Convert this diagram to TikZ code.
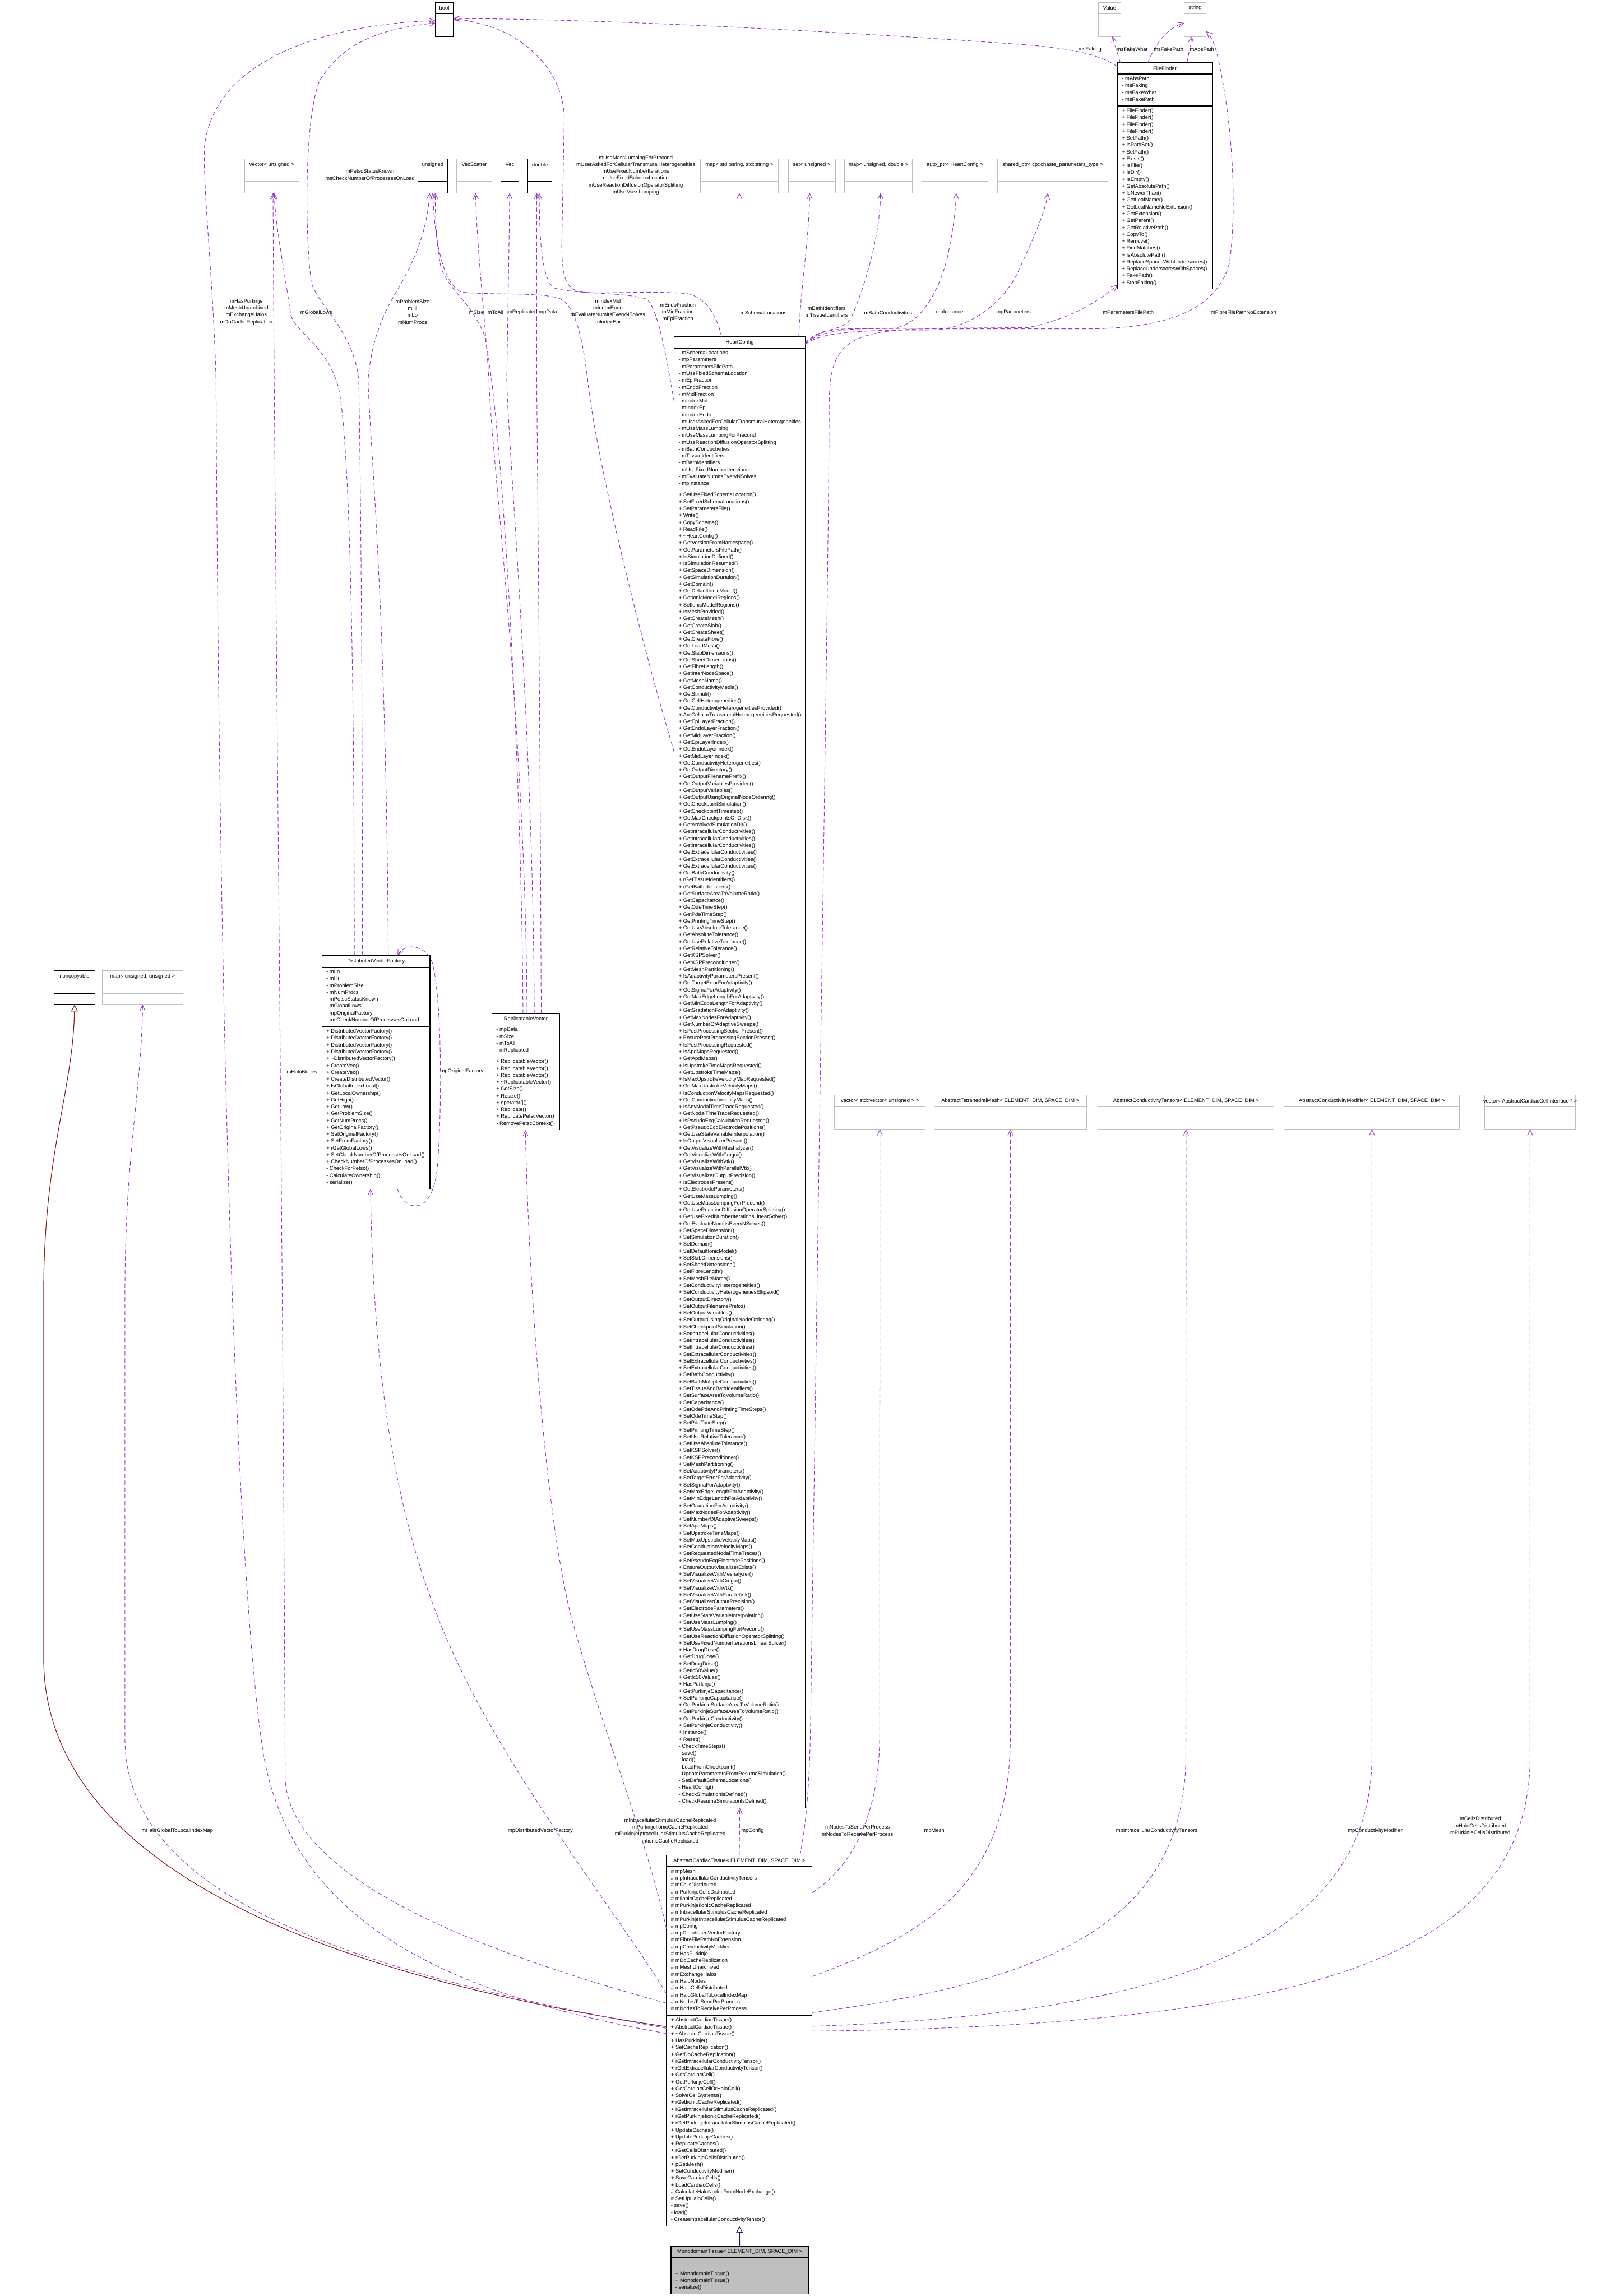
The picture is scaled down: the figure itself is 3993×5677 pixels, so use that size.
\documentclass[tikz,border=0pt]{standalone}
\usepackage{fontspec}
\setmainfont{Liberation Sans}
\usetikzlibrary{arrows.meta,calc}
\definecolor{epurple}{HTML}{9A32CD}
\definecolor{ublue}{HTML}{191970}
\definecolor{ured}{HTML}{8B1A1A}
\definecolor{ugray}{HTML}{BFBFBF}
\newcommand\dfont{\fontsize{3.25pt}{4.25pt}\selectfont}
\tikzset{
  dbox/.style={draw=black, line width=0.4pt},
  ubox/.style={draw=ugray, line width=0.4pt},
  txt/.style={font=\dfont, inner sep=0pt, outer sep=0pt},
  uses/.style={draw=epurple, line width=0.35pt, dash pattern=on 2.6pt off 1.6pt, -{Straight Barb[length=3.4pt,width=3.2pt]}},
  inh/.style={draw=ublue, line width=0.4pt, -{Triangle[open,length=4.2pt,width=4.2pt]}},
  pinh/.style={draw=ured, line width=0.4pt, -{Triangle[open,length=4.2pt,width=4.2pt]}},
  elab/.style={font=\dfont, inner sep=0pt, align=center},
}
\newcommand\classbox[8]{%
  \pgfmathsetmacro\cbA{(#6==0)?28:(#6*17+11)}%
  \pgfmathsetmacro\cbM{(#7==0)?28:(#7*17+11)}%
  \pgfmathsetmacro\cbYa{#5+28}%
  \pgfmathsetmacro\cbYm{#5+28+\cbA}%
  \pgfmathsetmacro\cbYb{#5+28+\cbA+\cbM}%
  \pgfmathsetmacro\cbW{(#4-#3)*0.25}%
  \pgfmathsetmacro\cbH{(\cbYb-#5)*0.25}%
  \node[#2, anchor=north west, minimum width=\cbW pt, minimum height=\cbH pt, inner sep=0pt, outer sep=0pt] (#1) at (#3,#5) {};
  \draw[#2] (#3,\cbYa) -- (#4,\cbYa) (#3,\cbYm) -- (#4,\cbYm);
  \node[txt, anchor=center] (#1-h) at ({(#3+#4)/2},#5+14) {#8};
  \ifnum#6>0 \node[txt, anchor=north west] (#1-a) at (#3+11,\cbYa+4) {\begin{tabular}{@{}l@{}}\cbAttrs\end{tabular}};\fi
  \ifnum#7>0 \node[txt, anchor=north west] (#1-m) at (#3+11,\cbYm+4) {\begin{tabular}{@{}l@{}}\cbMeths\end{tabular}};\fi
}
\begin{document}
\begin{tikzpicture}[x=0.25pt,y=-0.25pt]
\fill[white] (0,0) rectangle (3993,5677);
\useasboundingbox (0,0) rectangle (3993,5677);

% ---------- simple boxes
\classbox{bool}{dbox,fill=white}{1076}{1121}{6}{0}{0}{bool}
\classbox{value}{ubox,fill=white}{2716}{2771}{6}{0}{0}{Value}
\classbox{string}{ubox,fill=white}{2928}{2982}{6}{0}{0}{string}
\classbox{vecu}{ubox,fill=white}{605}{739}{393}{0}{0}{vector< unsigned >}
\classbox{uns}{dbox,fill=white}{1033}{1107}{393}{0}{0}{unsigned}
\classbox{vecsc}{ubox,fill=white}{1129}{1216}{393}{0}{0}{VecScatter}
\classbox{vec}{dbox,fill=white}{1238}{1283}{393}{0}{0}{Vec}
\classbox{dbl}{dbox,fill=white}{1305}{1365}{393}{0}{0}{double}
\classbox{mss}{ubox,fill=white}{1731}{1925}{393}{0}{0}{map< std::string, std::string >}
\classbox{setu}{ubox,fill=white}{1949}{2065}{393}{0}{0}{set< unsigned >}
\classbox{mud}{ubox,fill=white}{2088}{2256}{393}{0}{0}{map< unsigned, double >}
\classbox{autop}{ubox,fill=white}{2279}{2443}{393}{0}{0}{auto\_ptr< HeartConfig >}
\classbox{shp}{ubox,fill=white}{2467}{2739}{393}{0}{0}{shared\_ptr< cp::chaste\_parameters\_type >}
\classbox{nonc}{dbox,fill=white}{134}{235}{2400}{0}{0}{noncopyable}
\classbox{muu}{ubox,fill=white}{253}{452}{2400}{0}{0}{map< unsigned, unsigned >}
\classbox{vvu}{ubox,fill=white}{2063}{2288}{2708}{0}{0}{vector< std::vector< unsigned > >}
\classbox{atm}{ubox,fill=white}{2310}{2686}{2708}{0}{0}{AbstractTetrahedralMesh< ELEMENT\_DIM, SPACE\_DIM >}
\classbox{actt}{ubox,fill=white}{2715}{3150}{2708}{0}{0}{AbstractConductivityTensors< ELEMENT\_DIM, SPACE\_DIM >}
\classbox{acm}{ubox,fill=white}{3175}{3609}{2708}{0}{0}{AbstractConductivityModifier< ELEMENT\_DIM, SPACE\_DIM >}
\classbox{vacc}{ubox,fill=white}{3671}{3895}{2708}{0}{0}{vector< AbstractCardiacCellInterface * >}

% ---------- FileFinder
\def\cbAttrs{- mAbsPath\\- msFaking\\- msFakeWhat\\- msFakePath}
\def\cbMeths{+ FileFinder()\\+ FileFinder()\\+ FileFinder()\\+ FileFinder()\\+ SetPath()\\+ IsPathSet()\\+ SetPath()\\+ Exists()\\+ IsFile()\\+ IsDir()\\+ IsEmpty()\\+ GetAbsolutePath()\\+ IsNewerThan()\\+ GetLeafName()\\+ GetLeafNameNoExtension()\\+ GetExtension()\\+ GetParent()\\+ GetRelativePath()\\+ CopyTo()\\+ Remove()\\+ FindMatches()\\+ IsAbsolutePath()\\+ ReplaceSpacesWithUnderscores()\\+ ReplaceUnderscoresWithSpaces()\\+ FakePath()\\+ StopFaking()}
\classbox{ff}{dbox,fill=white}{2763}{2997}{155}{4}{26}{FileFinder}

% ---------- HeartConfig
\def\cbAttrs{- mSchemaLocations\\- mpParameters\\- mParametersFilePath\\- mUseFixedSchemaLocation\\- mEpiFraction\\- mEndoFraction\\- mMidFraction\\- mIndexMid\\- mIndexEpi\\- mIndexEndo\\- mUserAskedForCellularTransmuralHeterogeneities\\- mUseMassLumping\\- mUseMassLumpingForPrecond\\- mUseReactionDiffusionOperatorSplitting\\- mBathConductivities\\- mTissueIdentifiers\\- mBathIdentifiers\\- mUseFixedNumberIterations\\- mEvaluateNumItsEveryNSolves\\- mpInstance}
\def\cbMeths{+ SetUseFixedSchemaLocation()\\+ SetFixedSchemaLocations()\\+ SetParametersFile()\\+ Write()\\+ CopySchema()\\+ ReadFile()\\+ \textasciitilde HeartConfig()\\+ GetVersionFromNamespace()\\+ GetParametersFilePath()\\+ IsSimulationDefined()\\+ IsSimulationResumed()\\+ GetSpaceDimension()\\+ GetSimulationDuration()\\+ GetDomain()\\+ GetDefaultIonicModel()\\+ GetIonicModelRegions()\\+ SetIonicModelRegions()\\+ IsMeshProvided()\\+ GetCreateMesh()\\%
+ GetCreateSlab()\\+ GetCreateSheet()\\+ GetCreateFibre()\\+ GetLoadMesh()\\+ GetSlabDimensions()\\+ GetSheetDimensions()\\+ GetFibreLength()\\+ GetInterNodeSpace()\\+ GetMeshName()\\+ GetConductivityMedia()\\+ GetStimuli()\\+ GetCellHeterogeneities()\\+ GetConductivityHeterogeneitiesProvided()\\+ AreCellularTransmuralHeterogeneitiesRequested()\\+ GetEpiLayerFraction()\\+ GetEndoLayerFraction()\\+ GetMidLayerFraction()\\+ GetEpiLayerIndex()\\+ GetEndoLayerIndex()\\+ GetMidLayerIndex()\\+ GetConductivityHeterogeneities()\\+ GetOutputDirectory()\\+ GetOutputFilenamePrefix()\\+ GetOutputVariablesProvided()\\+ GetOutputVariables()\\+ GetOutputUsingOriginalNodeOrdering()\\+ GetCheckpointSimulation()\\+ GetCheckpointTimestep()\\+ GetMaxCheckpointsOnDisk()\\+ GetArchivedSimulationDir()\\+ GetIntracellularConductivities()\\+ GetIntracellularConductivities()\\+ GetIntracellularConductivities()\\+ GetExtracellularConductivities()\\+ GetExtracellularConductivities()\\+ GetExtracellularConductivities()\\+ GetBathConductivity()\\+ rGetTissueIdentifiers()\\+ rGetBathIdentifiers()\\+ GetSurfaceAreaToVolumeRatio()\\+ GetCapacitance()\\+ GetOdeTimeStep()\\+ GetPdeTimeStep()\\%
+ GetPrintingTimeStep()\\+ GetUseAbsoluteTolerance()\\+ GetAbsoluteTolerance()\\+ GetUseRelativeTolerance()\\+ GetRelativeTolerance()\\+ GetKSPSolver()\\+ GetKSPPreconditioner()\\+ GetMeshPartitioning()\\+ IsAdaptivityParametersPresent()\\+ GetTargetErrorForAdaptivity()\\+ GetSigmaForAdaptivity()\\+ GetMaxEdgeLengthForAdaptivity()\\+ GetMinEdgeLengthForAdaptivity()\\+ GetGradationForAdaptivity()\\+ GetMaxNodesForAdaptivity()\\+ GetNumberOfAdaptiveSweeps()\\+ IsPostProcessingSectionPresent()\\+ EnsurePostProcessingSectionPresent()\\+ IsPostProcessingRequested()\\+ IsApdMapsRequested()\\+ GetApdMaps()\\+ IsUpstrokeTimeMapsRequested()\\+ GetUpstrokeTimeMaps()\\+ IsMaxUpstrokeVelocityMapRequested()\\+ GetMaxUpstrokeVelocityMaps()\\+ IsConductionVelocityMapsRequested()\\+ GetConductionVelocityMaps()\\+ IsAnyNodalTimeTraceRequested()\\+ GetNodalTimeTraceRequested()\\+ IsPseudoEcgCalculationRequested()\\+ GetPseudoEcgElectrodePositions()\\+ GetUseStateVariableInterpolation()\\+ IsOutputVisualizerPresent()\\+ GetVisualizeWithMeshalyzer()\\+ GetVisualizeWithCmgui()\\+ GetVisualizeWithVtk()\\+ GetVisualizeWithParallelVtk()\\+ GetVisualizerOutputPrecision()\\+ IsElectrodesPresent()\\+ GetElectrodeParameters()\\+ GetUseMassLumping()\\+ GetUseMassLumpingForPrecond()\\+ GetUseReactionDiffusionOperatorSplitting()\\%
+ GetUseFixedNumberIterationsLinearSolver()\\+ GetEvaluateNumItsEveryNSolves()\\+ SetSpaceDimension()\\+ SetSimulationDuration()\\+ SetDomain()\\+ SetDefaultIonicModel()\\+ SetSlabDimensions()\\+ SetSheetDimensions()\\+ SetFibreLength()\\+ SetMeshFileName()\\+ SetConductivityHeterogeneities()\\+ SetConductivityHeterogeneitiesEllipsoid()\\+ SetOutputDirectory()\\+ SetOutputFilenamePrefix()\\+ SetOutputVariables()\\+ SetOutputUsingOriginalNodeOrdering()\\+ SetCheckpointSimulation()\\+ SetIntracellularConductivities()\\+ SetIntracellularConductivities()\\+ SetIntracellularConductivities()\\+ SetExtracellularConductivities()\\+ SetExtracellularConductivities()\\+ SetExtracellularConductivities()\\+ SetBathConductivity()\\+ SetBathMultipleConductivities()\\+ SetTissueAndBathIdentifiers()\\+ SetSurfaceAreaToVolumeRatio()\\+ SetCapacitance()\\+ SetOdePdeAndPrintingTimeSteps()\\+ SetOdeTimeStep()\\+ SetPdeTimeStep()\\+ SetPrintingTimeStep()\\+ SetUseRelativeTolerance()\\+ SetUseAbsoluteTolerance()\\+ SetKSPSolver()\\+ SetKSPPreconditioner()\\+ SetMeshPartitioning()\\+ SetAdaptivityParameters()\\+ SetTargetErrorForAdaptivity()\\+ SetSigmaForAdaptivity()\\+ SetMaxEdgeLengthForAdaptivity()\\+ SetMinEdgeLengthForAdaptivity()\\+ SetGradationForAdaptivity()\\%
+ SetMaxNodesForAdaptivity()\\+ SetNumberOfAdaptiveSweeps()\\+ SetApdMaps()\\+ SetUpstrokeTimeMaps()\\+ SetMaxUpstrokeVelocityMaps()\\+ SetConductionVelocityMaps()\\+ SetRequestedNodalTimeTraces()\\+ SetPseudoEcgElectrodePositions()\\+ EnsureOutputVisualizerExists()\\+ SetVisualizeWithMeshalyzer()\\+ SetVisualizeWithCmgui()\\+ SetVisualizeWithVtk()\\+ SetVisualizeWithParallelVtk()\\+ SetVisualizerOutputPrecision()\\+ SetElectrodeParameters()\\+ SetUseStateVariableInterpolation()\\+ SetUseMassLumping()\\+ SetUseMassLumpingForPrecond()\\+ SetUseReactionDiffusionOperatorSplitting()\\+ SetUseFixedNumberIterationsLinearSolver()\\+ HasDrugDose()\\+ GetDrugDose()\\+ SetDrugDose()\\+ SetIc50Value()\\+ GetIc50Values()\\+ HasPurkinje()\\+ GetPurkinjeCapacitance()\\+ SetPurkinjeCapacitance()\\+ GetPurkinjeSurfaceAreaToVolumeRatio()\\+ SetPurkinjeSurfaceAreaToVolumeRatio()\\+ GetPurkinjeConductivity()\\+ SetPurkinjeConductivity()\\+ Instance()\\+ Reset()\\- CheckTimeSteps()\\- save()\\- load()\\- LoadFromCheckpoint()\\- UpdateParametersFromResumeSimulation()\\- SetDefaultSchemaLocations()\\- HeartConfig()\\- CheckSimulationIsDefined()\\- CheckResumeSimulationIsDefined()}
\classbox{hc}{dbox,fill=white}{1667}{1991}{833}{20}{191}{HeartConfig}

% ---------- DistributedVectorFactory
\def\cbAttrs{- mLo\\- mHi\\- mProblemSize\\- mNumProcs\\- mPetscStatusKnown\\- mGlobalLows\\- mpOriginalFactory\\- msCheckNumberOfProcessesOnLoad}
\def\cbMeths{+ DistributedVectorFactory()\\+ DistributedVectorFactory()\\+ DistributedVectorFactory()\\+ DistributedVectorFactory()\\+ \textasciitilde DistributedVectorFactory()\\+ CreateVec()\\+ CreateVec()\\+ CreateDistributedVector()\\+ IsGlobalIndexLocal()\\+ GetLocalOwnership()\\+ GetHigh()\\+ GetLow()\\+ GetProblemSize()\\+ GetNumProcs()\\+ GetOriginalFactory()\\+ SetOriginalFactory()\\+ SetFromFactory()\\+ rGetGlobalLows()\\+ SetCheckNumberOfProcessesOnLoad()\\+ CheckNumberOfProcessesOnLoad()\\- CheckForPetsc()\\- CalculateOwnership()\\- serialize()}
\classbox{dvf}{dbox,fill=white}{796}{1063}{2363}{8}{23}{DistributedVectorFactory}

% ---------- ReplicatableVector
\def\cbAttrs{- mpData\\- mSize\\- mToAll\\- mReplicated}
\def\cbMeths{+ ReplicatableVector()\\+ ReplicatableVector()\\+ ReplicatableVector()\\+ \textasciitilde ReplicatableVector()\\+ GetSize()\\+ Resize()\\+ operator[]()\\+ Replicate()\\+ ReplicatePetscVector()\\- RemovePetscContext()}
\classbox{rv}{dbox,fill=white}{1216}{1384}{2506}{4}{10}{ReplicatableVector}

% ---------- AbstractCardiacTissue
\def\cbAttrs{\# mpMesh\\\# mpIntracellularConductivityTensors\\\# mCellsDistributed\\\# mPurkinjeCellsDistributed\\\# mIionicCacheReplicated\\\# mPurkinjeIionicCacheReplicated\\\# mIntracellularStimulusCacheReplicated\\\# mPurkinjeIntracellularStimulusCacheReplicated\\\# mpConfig\\\# mpDistributedVectorFactory\\\# mFibreFilePathNoExtension\\\# mpConductivityModifier\\\# mHasPurkinje\\\# mDoCacheReplication\\\# mMeshUnarchived\\\# mExchangeHalos\\\# mHaloNodes\\\# mHaloCellsDistributed\\\# mHaloGlobalToLocalIndexMap\\\# mNodesToSendPerProcess\\\# mNodesToReceivePerProcess}
\def\cbMeths{+ AbstractCardiacTissue()\\+ AbstractCardiacTissue()\\+ \textasciitilde AbstractCardiacTissue()\\+ HasPurkinje()\\+ SetCacheReplication()\\+ GetDoCacheReplication()\\+ rGetIntracellularConductivityTensor()\\+ rGetExtracellularConductivityTensor()\\+ GetCardiacCell()\\+ GetPurkinjeCell()\\+ GetCardiacCellOrHaloCell()\\+ SolveCellSystems()\\+ rGetIionicCacheReplicated()\\+ rGetIntracellularStimulusCacheReplicated()\\+ rGetPurkinjeIionicCacheReplicated()\\+ rGetPurkinjeIntracellularStimulusCacheReplicated()\\+ UpdateCaches()\\+ UpdatePurkinjeCaches()\\+ ReplicateCaches()\\+ rGetCellsDistributed()\\+ rGetPurkinjeCellsDistributed()\\+ pGetMesh()\\+ SetConductivityModifier()\\+ SaveCardiacCells()\\+ LoadCardiacCells()\\\# CalculateHaloNodesFromNodeExchange()\\\# SetUpHaloCells()\\- save()\\- load()\\- CreateIntracellularConductivityTensor()}
\classbox{act}{dbox,fill=white}{1648}{2008}{4587}{21}{30}{AbstractCardiacTissue< ELEMENT\_DIM, SPACE\_DIM >}

% ---------- MonodomainTissue
\def\cbMeths{+ MonodomainTissue()\\+ MonodomainTissue()\\- serialize()}
\classbox{mono}{dbox,fill=ugray}{1659}{1999}{5554}{0}{3}{MonodomainTissue< ELEMENT\_DIM, SPACE\_DIM >}

% ================= edges
\draw[inh] (mono.north) -- (act.south);
\draw[pinh] ($(act.north west)+(0,424)$) .. controls (900,4900) and (108,4650) .. (108,4100) -- (108,3200) .. controls (108,2850) and (180,2700) .. (nonc.south);
\draw[uses] (act.north) -- (hc.south);

% FileFinder edges
\draw[uses] ($(ff.north west)+(0,10)$) .. controls (2720,135) and (2650,118) .. (2500,108) .. controls (2100,80) and (1500,46) .. ($(bool.north east)+(0,40)$);
\draw[uses] ($(ff.north west)+(7,0)$) -- ($(value.south west)+(34,0)$);
\draw[uses] ($(ff.north west)+(75,0)$) .. controls (2860,100) and (2890,68) .. ($(string.north west)+(0,51)$);
\draw[uses] ($(ff.north west)+(172,0)$) -- ($(string.south west)+(19,0)$);

% HeartConfig edges
\draw[uses] ($(hc.north east)+(0,20)$) .. controls (2010,830) and (2030,815) .. (2100,813) -- (2540,810) .. controls (2620,795) and (2700,760) .. ($(ff.south west)+(0,-11)$);
\draw[uses] ($(hc.north west)+(161,0)$) -- ($(mss.south west)+(97,0)$);
\draw[uses] ($(hc.north west)+(308,0)$) .. controls (1980,700) and (2000,600) .. ($(setu.south west)+(53,0)$);
\draw[uses] ($(hc.north east)+(0,15)$) .. controls (2030,805) and (2080,825) .. (2105,785) .. controls (2150,680) and (2177,560) .. ($(mud.south west)+(89,0)$);
\draw[uses] ($(hc.north east)+(0,17)$) .. controls (2030,815) and (2100,812) .. (2200,812) .. controls (2280,812) and (2330,700) .. (2345,624) .. controls (2360,550) and (2364,500) .. ($(autop.south west)+(85,0)$);
\draw[uses] ($(hc.north east)+(0,19)$) .. controls (2030,818) and (2150,816) .. (2300,816) .. controls (2410,816) and (2495,730) .. (2521,663) .. controls (2560,580) and (2585,520) .. ($(shp.south west)+(124,0)$);
\draw[uses] ($(hc.north west)+(117,0)$) .. controls (1770,770) and (1740,735) .. (1700,726) .. controls (1600,718) and (1480,728) .. (1437,722) .. controls (1400,715) and (1389,690) .. (1389,600) -- (1395,300) .. controls (1398,180) and (1300,90) .. (1200,62) .. controls (1160,52) and (1140,46) .. ($(bool.north east)+(0,43)$);
\draw[uses] ($(hc.north west)+(0,161)$) .. controls (1650,900) and (1630,770) .. (1600,740) .. controls (1550,722) and (1420,728) .. (1370,712) .. controls (1340,690) and (1334,600) .. ($(dbl.south west)+(28,0)$);
\draw[uses] ($(hc.north west)+(0,1027)$) .. controls (1560,1500) and (1470,1100) .. (1453,940) .. controls (1440,830) and (1420,750) .. (1381,737) .. controls (1330,722) and (1200,730) .. (1140,722) .. controls (1095,700) and (1075,600) .. ($(uns.south west)+(37,0)$);

% ReplicatableVector edges
\draw[uses] ($(rv.north west)+(77,0)$) .. controls (1290,1900) and (1240,1000) .. (1197,827) .. controls (1160,740) and (1110,720) .. (1090,660) .. controls (1078,600) and (1076,530) .. ($(uns.south west)+(43,0)$);
\draw[uses] ($(rv.north west)+(87,0)$) .. controls (1300,1800) and (1212,1100) .. (1209,940) .. controls (1200,800) and (1178,600) .. ($(vecsc.south west)+(47,0)$);
\draw[uses] ($(rv.north west)+(105,0)$) .. controls (1318,1800) and (1256,1100) .. (1253,940) .. controls (1255,800) and (1259,600) .. ($(vec.south west)+(22,0)$);
\draw[uses] ($(rv.north west)+(122,0)$) .. controls (1336,1800) and (1328,1100) .. (1327,940) -- ($(dbl.south west)+(22,0)$);

% DistributedVectorFactory edges
\draw[uses] ($(dvf.north west)+(100,0)$) .. controls (896,1500) and (890,1100) .. (887,940) .. controls (875,820) and (790,760) .. (770,700) .. controls (755,600) and (750,300) .. (790,200) .. controls (850,100) and (950,70) .. ($(bool.north west)+(0,51)$);
\draw[uses] ($(dvf.north west)+(80,0)$) .. controls (876,1500) and (860,1000) .. (831,940) .. controls (800,850) and (730,820) .. (719,779) .. controls (700,650) and (680,550) .. ($(vecu.south west)+(73,0)$);
\draw[uses] ($(dvf.north west)+(164,0)$) .. controls (955,1500) and (915,1100) .. (910,940) .. controls (920,820) and (960,760) .. (974,731) .. controls (1030,640) and (1058,560) .. ($(uns.south west)+(29,0)$);
\draw[uses] ($(dvf.south west)+(187,0)$) .. controls (995,2990) and (1070,3020) .. (1082,2880) .. controls (1095,2700) and (1090,2450) .. (1068,2378) .. controls (1050,2335) and (1000,2330) .. ($(dvf.north west)+(187,0)$);

% AbstractCardiacTissue edges (left)
\draw[uses] ($(act.north west)+(0,441)$) .. controls (1100,4930) and (720,4750) .. (650,4330) .. controls (600,4000) and (545,3000) .. (534,940) .. controls (528,700) and (500,450) .. (506,360) .. controls (530,150) and (800,60) .. ($(bool.north west)+(0,45)$);
\draw[uses] ($(act.north west)+(0,428)$) .. controls (900,4880) and (310,4700) .. (309,4300) -- (309,3200) .. controls (309,2850) and (350,2700) .. (muu.south);
\draw[uses] ($(act.north west)+(0,366)$) .. controls (1200,4830) and (720,4650) .. (705,4400) .. controls (700,3000) and (680,1500) .. ($(vecu.south west)+(70,0)$);
\draw[uses] ($(act.north west)+(0,343)$) .. controls (1560,4780) and (1300,4450) .. (1150,4150) .. controls (1000,3850) and (925,3500) .. ($(dvf.south west)+(120,0)$);
\draw[uses] ($(act.north west)+(0,183)$) .. controls (1600,4550) and (1480,4250) .. (1410,3989) .. controls (1340,3700) and (1305,3100) .. ($(rv.south west)+(83,0)$);

% AbstractCardiacTissue edges (right)
\draw[uses] ($(act.north east)+(0,93)$) .. controls (2100,4620) and (2172,4500) .. (2175,4300) -- (vvu.south);
\draw[uses] ($(act.north east)+(0,300)$) .. controls (2300,4780) and (2495,4650) .. (2498,4300) -- (atm.south);
\draw[uses] ($(act.north east)+(0,389)$) .. controls (2600,4900) and (2925,4750) .. (2932,4350) -- (actt.south);
\draw[uses] ($(act.north east)+(0,423)$) .. controls (2900,4980) and (3385,4800) .. (3392,4350) -- (acm.south);
\draw[uses] ($(act.north east)+(0,435)$) .. controls (3200,5010) and (3778,4850) .. (3783,4350) -- (vacc.south);
\draw[uses] ($(act.north west)+(330,0)$) .. controls (1995,4500) and (2003,4400) .. (2005,4200) .. controls (2030,2500) and (2050,1300) .. (2050,1000) .. controls (2052,860) and (2080,815) .. (2300,813) -- (2700,813) .. controls (2900,810) and (3010,760) .. (3040,650) .. controls (3060,500) and (3045,300) .. (3015,160) .. controls (3005,110) and (2995,90) .. ($(string.north east)+(0,71)$);

% ================= edge labels
\node[elab] (l-fk) at (2695,122) {msFaking};
\node[elab,anchor=west] (l-fw) at (2760,122) {msFakeWhat};
\node[elab,anchor=west] (l-fp) at (2852,122) {msFakePath};
\node[elab,anchor=west] (l-ap) at (2941,122) {mAbsPath};
\node[elab] (l-hb) at (1572,433) {mUseMassLumpingForPrecond\\mUserAskedForCellularTransmuralHeterogeneities\\mUseFixedNumberIterations\\mUseFixedSchemaLocation\\mUseReactionDiffusionOperatorSplitting\\mUseMassLumping};
\node[elab] (l-db) at (915,432) {mPetscStatusKnown\\msCheckNumberOfProcessesOnLoad};
\node[elab] (l-ab) at (609,771) {mHasPurkinje\\mMeshUnarchived\\mExchangeHalos\\mDoCacheReplication};
\node[elab] (l-gl) at (782,772) {mGlobalLows};
\node[elab] (l-du) at (1020,771) {mProblemSize\\mHi\\mLo\\mNumProcs};
\node[elab] (l-rs) at (1178,772) {mSize};
\node[elab] (l-rt) at (1225,772) {mToAll};
\node[elab] (l-rr) at (1292,772) {mReplicated};
\node[elab] (l-rd) at (1355,772) {mpData};
\node[elab] (l-hu) at (1503,771) {mIndexMid\\mIndexEndo\\mEvaluateNumItsEveryNSolves\\mIndexEpi};
\node[elab] (l-hd) at (1676,772) {mEndoFraction\\mMidFraction\\mEpiFraction};
\node[elab,anchor=west] (l-sl) at (1830,773) {mSchemaLocations};
\node[elab] (l-bi) at (2044,771) {mBathIdentifiers\\mTissueIdentifiers};
\node[elab] (l-bc) at (2196,773) {mBathConductivities};
\node[elab] (l-pi) at (2348,773) {mpInstance};
\node[elab] (l-pp) at (2506,773) {mpParameters};
\node[elab,anchor=west] (l-pf) at (2726,772) {mParametersFilePath};
\node[elab,anchor=west] (l-fe) at (2993,772) {mFibreFilePathNoExtension};
\node[elab,anchor=west] (l-of) at (1088,2648) {mpOriginalFactory};
\node[elab,anchor=east] (l-hn) at (785,2650) {mHaloNodes};
\node[elab,anchor=west] (l-dv) at (1255,4526) {mpDistributedVectorFactory};
\node[elab,anchor=west] (l-gm) at (349,4526) {mHaloGlobalToLocalIndexMap};
\node[elab] (l-rv) at (1657,4527) {mIntracellularStimulusCacheReplicated\\mPurkinjeIionicCacheReplicated\\mPurkinjeIntracellularStimulusCacheReplicated\\mIionicCacheReplicated};
\node[elab,anchor=west] (l-cfg) at (1832,4527) {mpConfig};
\node[elab] (l-ns) at (2120,4526) {mNodesToSendPerProcess\\mNodesToReceivePerProcess};
\node[elab] (l-mm) at (2310,4526) {mpMesh};
\node[elab] (l-ict) at (2860,4526) {mpIntracellularConductivityTensors};
\node[elab] (l-cm) at (3400,4526) {mpConductivityModifier};
\node[elab] (l-cd) at (3660,4515) {mCellsDistributed\\mHaloCellsDistributed\\mPurkinjeCellsDistributed};
\end{tikzpicture}
\end{document}
